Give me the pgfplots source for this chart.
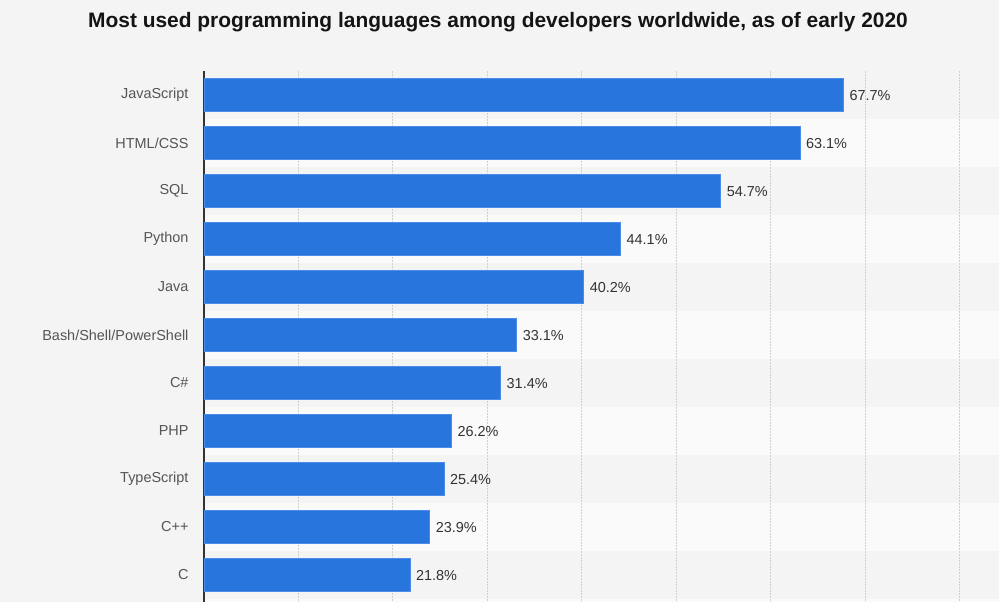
\documentclass[border=0pt]{standalone}
\usepackage{pgfplots}
\pgfplotsset{compat=1.18}
\usepackage{fontspec}
\setmainfont{Liberation Sans}
\definecolor{bg}{HTML}{F4F4F4}
\definecolor{band}{HTML}{FAFAFA}
\definecolor{barblue}{HTML}{2876DD}
\definecolor{baredge}{HTML}{4A8CE6}
\definecolor{gridc}{HTML}{CFCFCF}
\definecolor{labc}{HTML}{555555}
\definecolor{valc}{HTML}{333333}
\begin{document}
\begin{tikzpicture}
\fill[bg] (0bp,0bp) rectangle (999bp,-602bp);
\foreach \i in {1,3,5,7,9}{
  \fill[band] (204bp,{(-71-48*\i)*1bp}) rectangle (999bp,{(-119-48*\i)*1bp});
}
\fill[band] (204bp,-599bp) rectangle (999bp,-602bp);
\node[font=\bfseries\fontsize{21}{24}\selectfont, text=black!92, anchor=base, inner sep=0pt] at (498bp,-27.3bp) {Most used programming languages among developers worldwide, as of early 2020};
\begin{axis}[
  at={(204bp,-71bp)}, anchor=north west,
  scale only axis, width=755.6bp, height=531bp,
  xmin=0, xmax=80, ymin=-0.5, ymax=10.5625,
  y dir=reverse,
  xbar, bar width=33.5bp,
  axis x line*=bottom, axis y line*=left,
  x axis line style={draw=none},
  y axis line style={draw=valc, line width=1.3bp, -},
  xtick={10,20,...,80}, xticklabels={},
  xmajorgrids, major grid style={gridc, line width=0.9bp, dash pattern=on 2bp off 1bp},
  ytick={0,...,10},
  yticklabels={JavaScript,HTML/CSS,SQL,Python,Java,Bash/Shell/PowerShell,C\#,PHP,TypeScript,C++,C},
  major tick length=0pt,
  yticklabel style={font=\fontsize{14.5}{17}\selectfont, text=labc, xshift=-12bp},
  nodes near coords={\pgfmathprintnumber[fixed,fixed zerofill,precision=1,assume math mode=true]{\pgfplotspointmeta}\%},
  nodes near coords align={horizontal},
  every node near coord/.append style={font=\fontsize{14.5}{17}\selectfont, text=valc, xshift=2.5bp, yshift=-0.5bp},
  clip=false,
]
\addplot[fill=barblue, draw=baredge, line width=0.6bp] coordinates {
(67.7,0) (63.1,1) (54.7,2) (44.1,3) (40.2,4) (33.1,5) (31.4,6) (26.2,7) (25.4,8) (23.9,9) (21.8,10)
};
\end{axis}
\end{tikzpicture}
\end{document}
